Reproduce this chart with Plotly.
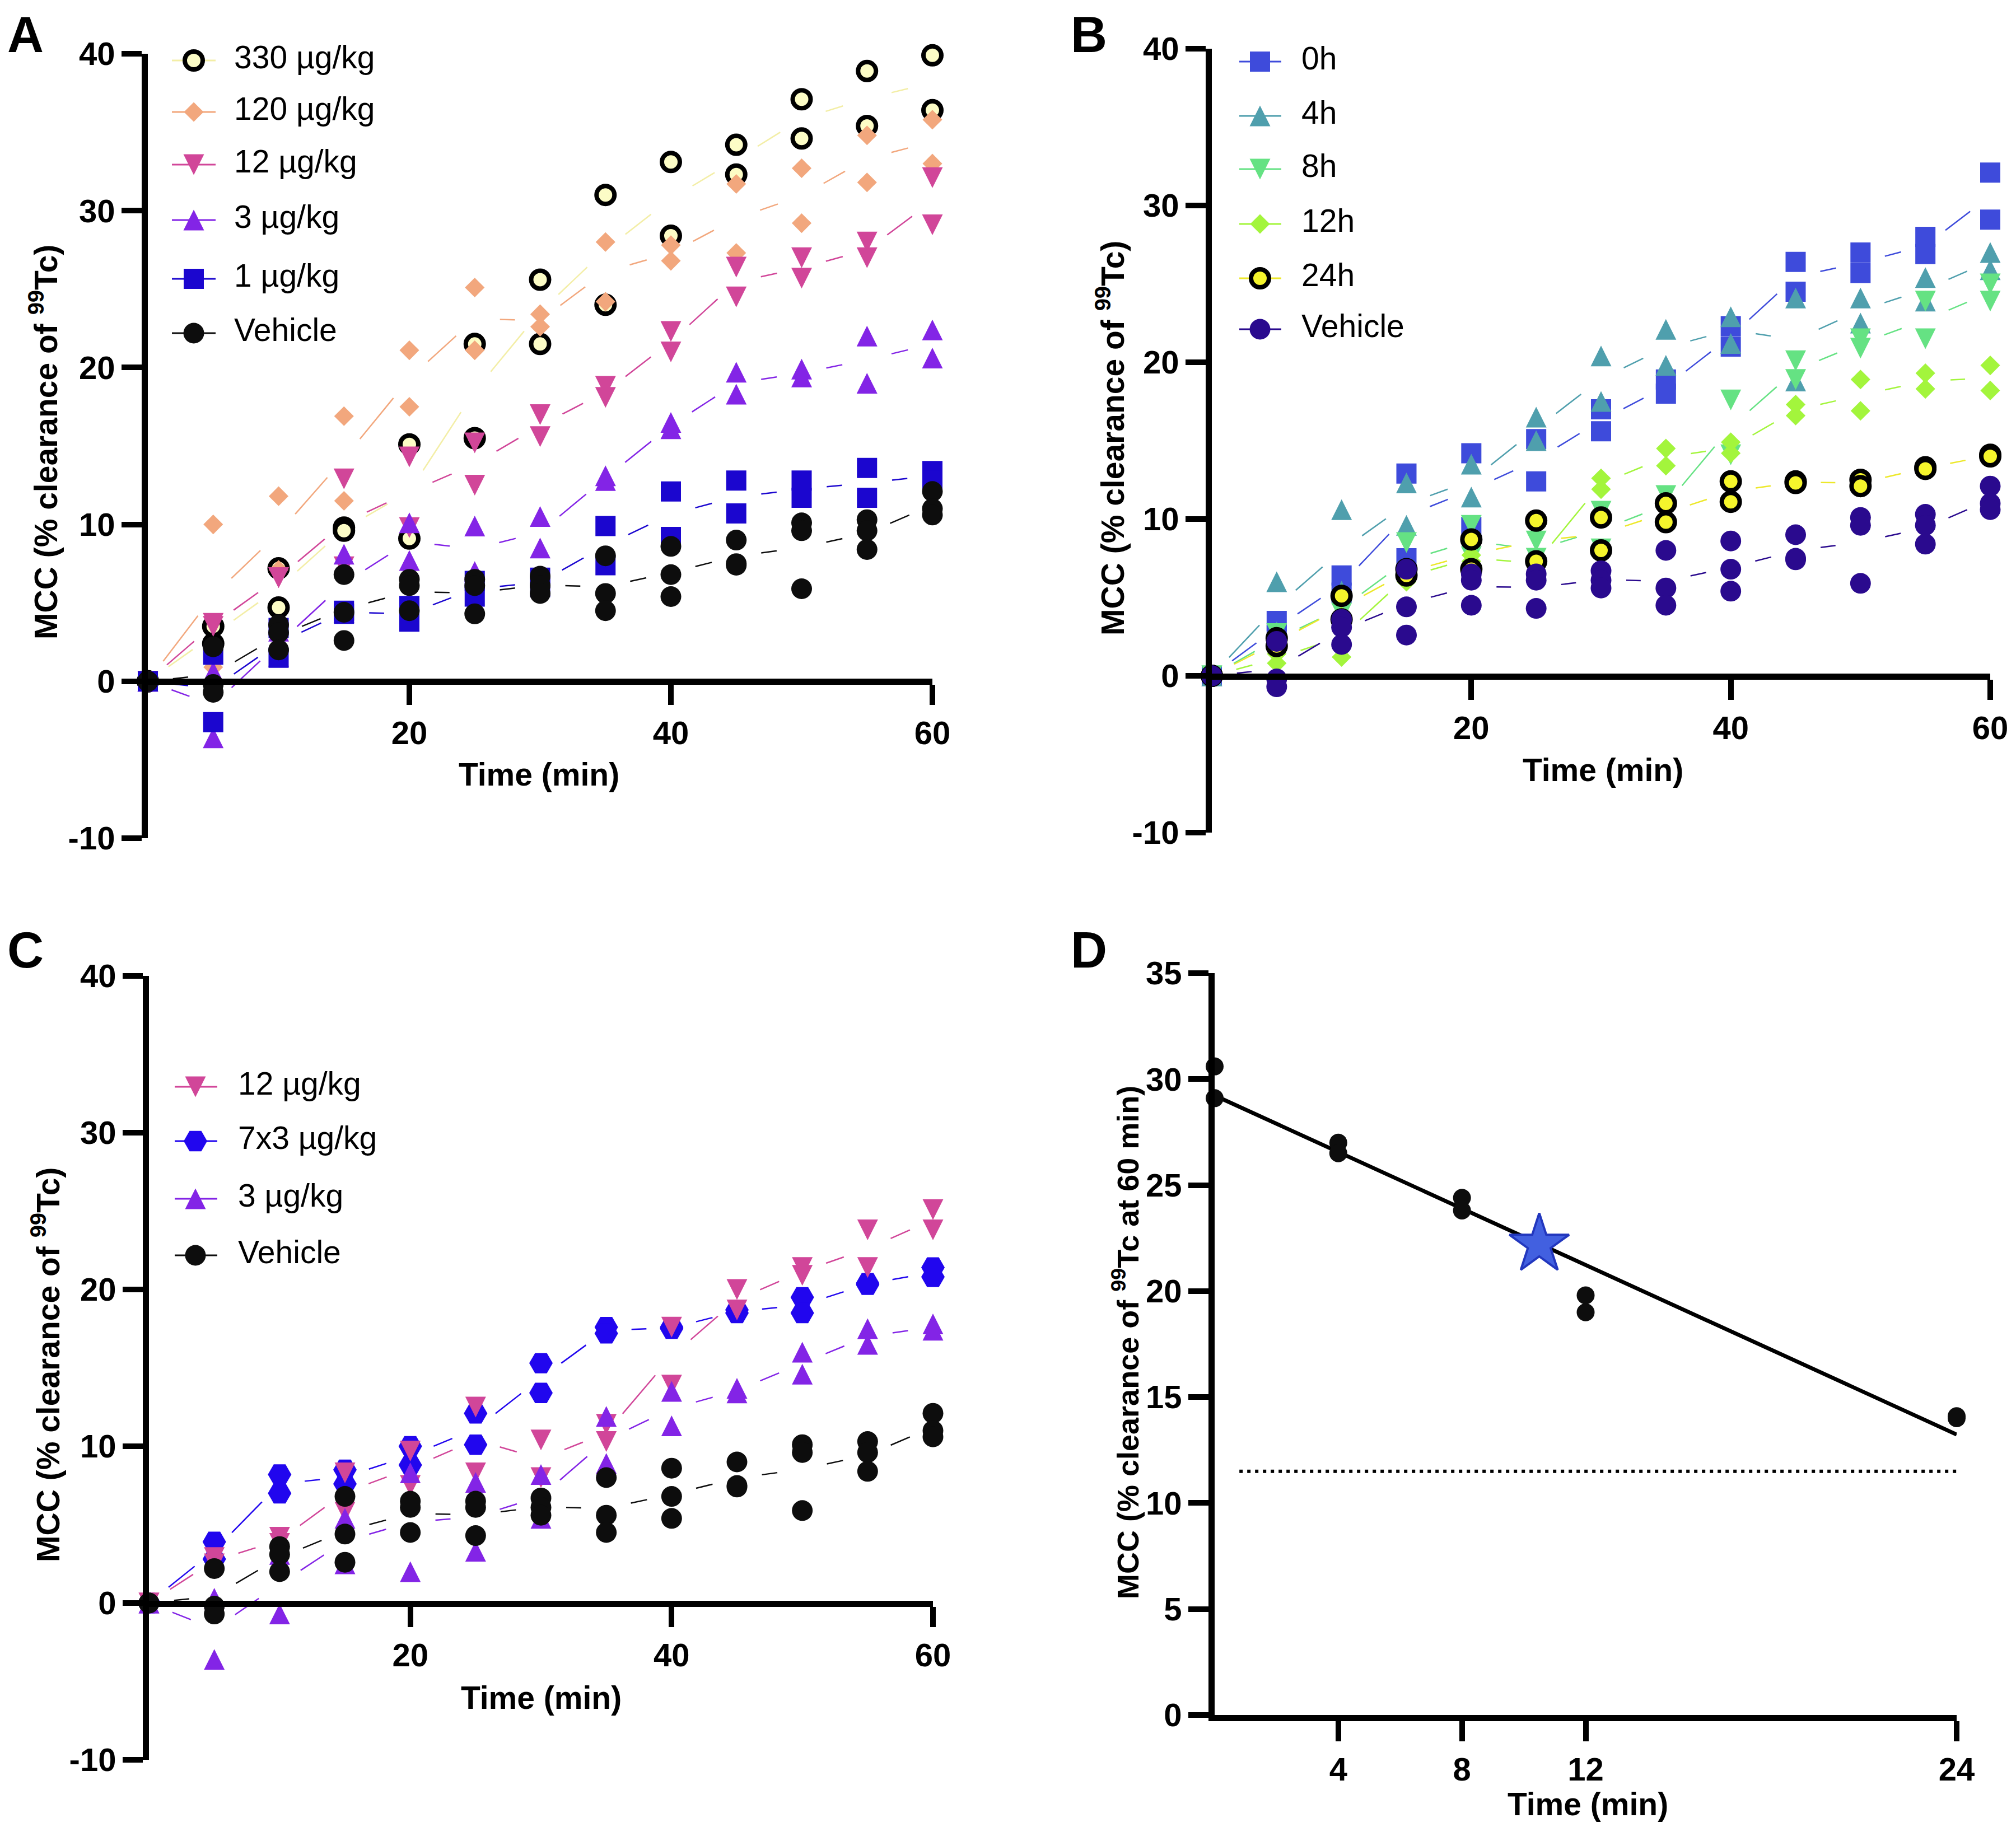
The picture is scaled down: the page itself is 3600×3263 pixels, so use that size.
import numpy as np
import plotly.graph_objects as go

W, H = 3600, 3263          # page size to match
OFF = 8                    # default body margin of the html page
FW, FH = W - 2 * OFF, H - 2 * OFF
FONT = "Liberation Sans, Arial, Helvetica, sans-serif"

# ---------------- data ----------------
T = [0, 5, 10, 15, 20, 25, 30, 35, 40, 45, 50, 55, 60]

VEHICLE = [
    [0, 2.2, 3.6, 6.8, 6.5, 6.5, 6.7, 8.0, 8.6, 9.0, 10.1, 10.3, 12.1],
    [0, -0.2, 3.1, 4.4, 6.1, 6.1, 6.1, 5.6, 6.8, 7.5, 9.6, 9.6, 11.0],
    [0, -0.7, 2.0, 2.6, 4.5, 4.3, 5.6, 4.5, 5.4, 7.4, 5.9, 8.4, 10.6],
]

A_330 = [
    [0, 3.5, 7.2, 9.8, 15.1, 21.5, 25.6, 31.0, 33.1, 34.2, 37.1, 38.9, 39.9],
    [0, 2.4, 4.7, 9.6, 9.1, 15.5, 21.5, 24.0, 28.4, 32.3, 34.6, 35.4, 36.4],
]
A_120 = [
    [0, 10.0, 11.8, 16.9, 21.1, 25.1, 23.4, 28.0, 27.8, 31.7, 32.7, 34.8, 35.8],
    [0, 0.9, 7.1, 11.5, 17.5, 21.1, 22.6, 24.2, 26.8, 27.3, 29.2, 31.8, 33.0],
]
A_12 = [
    [0, 3.7, 6.6, 12.9, 14.3, 15.2, 17.0, 18.8, 22.3, 26.4, 27.0, 28.0, 32.1],
    [0, 3.5, 6.6, 7.3, 9.8, 12.5, 15.6, 18.1, 21.0, 24.5, 25.7, 27.0, 29.1],
]
A_3 = [
    [0, 0.6, 3.2, 8.1, 10.1, 9.9, 10.5, 13.1, 16.5, 19.7, 19.9, 22.0, 22.4],
    [0, -3.6, 1.6, 4.4, 7.7, 7.0, 8.5, 12.8, 16.1, 18.3, 19.4, 19.0, 20.6],
]
A_1 = [
    [0, 1.7, 3.4, 4.5, 4.8, 6.4, 6.6, 9.9, 12.1, 12.8, 12.8, 13.6, 13.4],
    [0, -2.6, 1.5, 4.3, 3.8, 5.4, 6.0, 7.4, 9.2, 10.7, 11.7, 11.7, 12.8],
]

B_0H = [
    [0, 3.5, 6.4, 12.9, 14.2, 15.1, 17.0, 18.9, 22.3, 26.4, 27.0, 28.0, 32.1],
    [0, 2.6, 5.3, 7.5, 9.5, 12.4, 15.6, 18.0, 21.0, 24.5, 25.7, 26.9, 29.1],
]
B_4H = [
    [0, 6.0, 10.6, 12.3, 13.5, 16.5, 20.4, 22.1, 22.9, 24.1, 24.1, 25.4, 27.0],
    [0, 2.8, 5.4, 9.6, 11.4, 15.0, 17.5, 19.8, 21.2, 18.8, 22.5, 23.9, 25.9],
]
B_8H = [
    [0, 2.7, 4.6, 8.5, 9.6, 8.6, 10.5, 11.5, 17.6, 20.1, 21.5, 23.9, 25.0],
    [0, 2.0, 4.0, 6.2, 7.6, 7.5, 8.1, 10.3, 14.1, 18.9, 20.9, 21.5, 23.9],
]
B_12H = [
    [0, 1.4, 3.8, 6.6, 7.7, 7.4, 12.6, 14.5, 14.9, 17.3, 18.9, 19.3, 19.8],
    [0, 0.8, 1.2, 6.0, 7.3, 7.0, 11.9, 13.4, 14.2, 16.6, 16.9, 18.3, 18.2],
]
B_24H = [
    [0, 2.4, 5.1, 6.8, 8.7, 9.9, 10.1, 11.0, 12.4, 12.4, 12.5, 13.3, 14.1],
    [0, 1.9, 3.6, 6.4, 6.8, 7.3, 8.0, 9.8, 11.1, 12.3, 12.1, 13.2, 14.0],
]

C_12 = [
    [0, 2.9, 4.2, 8.3, 9.7, 12.5, 10.4, 11.4, 17.6, 20.0, 21.4, 23.8, 25.1],
    [0, 2.5, 3.8, 5.8, 7.5, 8.3, 8.0, 10.3, 13.9, 18.7, 20.9, 21.4, 23.8],
]
C_7X3 = [
    [0, 3.9, 8.2, 8.5, 10.0, 12.1, 15.3, 17.6, 17.6, 18.7, 19.5, 20.4, 21.4],
    [0, 2.8, 7.0, 7.6, 8.8, 10.1, 13.4, 17.2, 17.5, 18.5, 18.5, 20.3, 20.8],
]
C_3 = [
    [0, 0.3, 3.1, 5.4, 8.3, 7.7, 8.2, 11.9, 13.5, 13.7, 16.0, 17.5, 17.8],
    [0, -3.6, -0.7, 2.5, 2.0, 3.3, 5.4, 8.9, 11.3, 13.4, 14.6, 16.5, 17.4],
]

D_X = [0, 0, 4, 4, 8, 8, 12, 12, 24, 24]
D_Y = [30.6, 29.1, 27.0, 26.5, 24.4, 23.8, 19.8, 19.0, 14.1, 14.0]
D_STAR_X = [10.5]
D_STAR_Y = [22.2]
D_BASELINE_X = [0.8, 24]
D_BASELINE_Y = 11.5

A_NAMES = ["330 µg/kg", "120 µg/kg", "12 µg/kg", "3 µg/kg", "1 µg/kg", "Vehicle"]
B_NAMES = ["0h", "4h", "8h", "12h", "24h", "Vehicle"]
C_NAMES = ["12 µg/kg", "7x3 µg/kg", "3 µg/kg", "Vehicle"]

AXIS_TICKS_ABC_Y = [-10, 0, 10, 20, 30, 40]
AXIS_TICKS_ABC_X = [20, 40, 60]
AXIS_TICKS_D_X = [4, 8, 12, 24]
AXIS_TICKS_D_Y = [0, 5, 10, 15, 20, 25, 30, 35]

# ---------------- styles / layout ----------------
def marker(kind, color, edge=None):
    if kind == "ring":
        return dict(symbol="circle", size=32, color=color, line=dict(color=edge or "black", width=8))
    if kind == "circle":
        return dict(symbol="circle", size=37, color=color, line=dict(width=0))
    if kind == "square":
        return dict(symbol="square", size=36, color=color, line=dict(width=0))
    if kind == "diamond":
        return dict(symbol="diamond", size=27, color=color, line=dict(width=0))
    if kind == "down":
        return dict(symbol="arrow-down", size=37, standoff=18.5, color=color, line=dict(width=0))
    if kind == "up":
        return dict(symbol="arrow-down", size=37, angle=180, standoff=18.5, color=color, line=dict(width=0))
    if kind == "hex":
        return dict(symbol="hexagon2", size=42, color=color, line=dict(width=0))
    if kind == "dot":
        return dict(symbol="circle", size=32, color=color, line=dict(width=0))


PINK = "#D14699"
PURPLE = "#8324E6"

A_STYLE = [("ring", "#FCFCC6", "#F3EEA6"), ("diamond", "#F2A77D", "#F2A77D"),
           ("down", PINK, PINK), ("up", PURPLE, PURPLE),
           ("square", "#1B06CF", "#1B06CF"), ("circle", "#0D0D0D", "#0D0D0D")]
B_STYLE = [("square", "#3E4BDB", "#3E4BDB"), ("up", "#4F9FAD", "#4F9FAD"),
           ("down", "#65E283", "#65E283"), ("diamond", "#A3F53C", "#A3F53C"),
           ("ring", "#F5F52C", "#EDE82A"), ("circle", "#2A0A8E", "#2A0A8E")]
C_STYLE = [("down", PINK, PINK), ("hex", "#2106EE", "#2106EE"),
           ("up", PURPLE, PURPLE), ("circle", "#0D0D0D", "#0D0D0D")]

A_DATA = [A_330, A_120, A_12, A_3, A_1, VEHICLE]
B_DATA = [B_0H, B_4H, B_8H, B_12H, B_24H, VEHICLE]
C_DATA = [C_12, C_7X3, C_3, VEHICLE]

# panel pixel boxes on the page (left, right, top, bottom), and pixel row of y=0
PANELS = {
    "A": dict(xa="x", ya="y", xpx=(264, 1665), ypx=(96, 1497), y0px=1217, xr=(0, 60), yr=(-10, 40)),
    "B": dict(xa="x2", ya="y2", xpx=(2164, 3554), ypx=(87, 1487), y0px=1208, xr=(0, 60), yr=(-10, 40)),
    "C": dict(xa="x3", ya="y3", xpx=(266, 1666), ypx=(1743, 3143), y0px=2864, xr=(0, 60), yr=(-10, 40)),
    "D": dict(xa="x4", ya="y4", xpx=(2169, 3494), ypx=(1738, 3063), xr=(0, 24), yr=(0, 35)),
}

LEGENDS = {
    "A": dict(line=(307, 385), mark=346, text=418, rows=[108, 200, 294, 393, 498, 595]),
    "B": dict(line=(2213, 2288), mark=2250, text=2324, rows=[110, 207, 302, 400, 497, 588]),
    "C": dict(line=(312, 388), mark=349, text=425, rows=[1941, 2038, 2141, 2242]),
}

GAP = 45  # px gap around symbols on the connecting lines


def px(x):
    return (x - OFF) / FW


def py(y):
    return 1 - (y - OFF) / FH


def mean_segments(t, reps, xs, ys, gap):
    m = np.mean(np.array(reps, dtype=float), axis=0)
    X, Y = [], []
    for i in range(len(t) - 1):
        dx = (t[i + 1] - t[i]) * xs
        dy = (m[i + 1] - m[i]) * ys
        L = float(np.hypot(dx, dy))
        if L <= 2 * gap:
            continue
        f = gap / L
        X += [t[i] + f * (t[i + 1] - t[i]), t[i + 1] - f * (t[i + 1] - t[i]), None]
        Y += [m[i] + f * (m[i + 1] - m[i]), m[i + 1] - f * (m[i + 1] - m[i]), None]
    return X, Y


fig = go.Figure()


def add_panel(key, data, styles, order=None):
    p = PANELS[key]
    xs = (p["xpx"][1] - p["xpx"][0]) / (p["xr"][1] - p["xr"][0])
    ys = (p["ypx"][1] - p["ypx"][0]) / (p["yr"][1] - p["yr"][0])
    for reps, (kind, col, lcol) in zip(data, styles):
        X, Y = mean_segments(T, reps, xs, ys, GAP)
        fig.add_trace(go.Scatter(x=X, y=Y, mode="lines", line=dict(color=lcol, width=2.5),
                                 xaxis=p["xa"], yaxis=p["ya"], showlegend=False, hoverinfo="skip",
                                 cliponaxis=False))
    idx = order if order is not None else range(len(data))
    for i in idx:
        reps = data[i]
        kind, col, lcol = styles[i]
        xx = [t for r in reps for t in T]
        yy = [v for r in reps for v in r]
        fig.add_trace(go.Scatter(x=xx, y=yy, mode="markers", marker=marker(kind, col),
                                 xaxis=p["xa"], yaxis=p["ya"], showlegend=False, cliponaxis=False))


add_panel("A", A_DATA, A_STYLE)
add_panel("B", B_DATA, B_STYLE)
add_panel("C", C_DATA, C_STYLE, order=[1, 0, 2, 3])

# Panel D
coef = np.polyfit(D_X, D_Y, 1)
fx = np.array([min(D_X), max(D_X)], dtype=float)
fig.add_trace(go.Scatter(x=D_BASELINE_X, y=[D_BASELINE_Y] * len(D_BASELINE_X), mode="lines",
                         line=dict(color="black", width=6, dash="6px,8px"),
                         xaxis="x4", yaxis="y4", showlegend=False, hoverinfo="skip"))
fig.add_trace(go.Scatter(x=fx, y=np.polyval(coef, fx), mode="lines", line=dict(color="black", width=7),
                         xaxis="x4", yaxis="y4", showlegend=False, hoverinfo="skip", cliponaxis=False))
fig.add_trace(go.Scatter(x=D_X, y=D_Y, mode="markers", marker=marker("dot", "#0D0D0D"),
                         xaxis="x4", yaxis="y4", showlegend=False, cliponaxis=False))
fig.add_trace(go.Scatter(x=D_STAR_X, y=D_STAR_Y, mode="markers",
                         marker=dict(symbol="star", size=80, color="#4260E0",
                                     line=dict(color="#2237BE", width=4)),
                         xaxis="x4", yaxis="y4", showlegend=False, cliponaxis=False))

# Custom legends on an overlay axis measured in page pixels
for key, names, styles in (("A", A_NAMES, A_STYLE), ("B", B_NAMES, B_STYLE), ("C", C_NAMES, C_STYLE)):
    lg = LEGENDS[key]
    for name, (kind, col, lcol), yrow in zip(names, styles, lg["rows"]):
        fig.add_trace(go.Scatter(x=list(lg["line"]), y=[yrow, yrow], mode="lines",
                                 line=dict(color=lcol, width=3), xaxis="x5", yaxis="y5",
                                 showlegend=False, hoverinfo="skip"))
        fig.add_trace(go.Scatter(x=[lg["mark"]], y=[yrow], mode="markers", marker=marker(kind, col),
                                 xaxis="x5", yaxis="y5", showlegend=False, hoverinfo="skip"))
        fig.add_trace(go.Scatter(x=[lg["text"]], y=[yrow], mode="text", text=[name],
                                 textposition="middle right",
                                 textfont=dict(family=FONT, size=57, color="black"),
                                 xaxis="x5", yaxis="y5", showlegend=False, hoverinfo="skip"))

# ---------------- axes ----------------
tickfont = dict(family=FONT, size=58, color="black", weight="bold")
common = dict(showline=True, linecolor="black", linewidth=11, ticks="outside", ticklen=36,
              tickwidth=10, tickcolor="black", showgrid=False, zeroline=False, tickfont=tickfont,
              automargin=False, fixedrange=True, ticklabeloverflow="allow")

layout_axes = {}
for i, key in enumerate(["A", "B", "C", "D"], start=1):
    p = PANELS[key]
    sfx = "" if i == 1 else str(i)
    xa = dict(common, domain=[px(p["xpx"][0]), px(p["xpx"][1])], range=list(p["xr"]))
    ya = dict(common, domain=[py(p["ypx"][1]), py(p["ypx"][0])], range=list(p["yr"]),
              anchor="x" + sfx)
    if key == "D":
        xa.update(anchor="y4", tickvals=AXIS_TICKS_D_X, ticktext=[str(v) for v in AXIS_TICKS_D_X])
        ya.update(tickvals=AXIS_TICKS_D_Y, ticktext=[str(v) for v in AXIS_TICKS_D_Y])
    else:
        xa.update(anchor="free", position=py(p["y0px"]), tickvals=AXIS_TICKS_ABC_X,
                  ticktext=[str(v) for v in AXIS_TICKS_ABC_X])
        ya.update(tickvals=AXIS_TICKS_ABC_Y, ticktext=[str(v) for v in AXIS_TICKS_ABC_Y])
    layout_axes["xaxis" + sfx] = xa
    layout_axes["yaxis" + sfx] = ya

layout_axes["xaxis5"] = dict(domain=[0, 1], range=[OFF, W - OFF], visible=False, anchor="y5",
                             fixedrange=True)
layout_axes["yaxis5"] = dict(domain=[0, 1], range=[H - OFF, OFF], visible=False, anchor="x5",
                             fixedrange=True)

# ---------------- annotations ----------------
ann = []
titlefont = dict(family=FONT, size=57, color="black", weight="bold")
for letter, (x, y) in {"A": (11, 62), "B": (1910, 62), "C": (11, 1697), "D": (1910, 1697)}.items():
    ann.append(dict(text=letter, x=px(x), y=py(y), xref="paper", yref="paper", xanchor="left",
                    yanchor="middle", showarrow=False,
                    font=dict(family=FONT, size=90, color="black", weight="bold")))
for (x, y) in [(963, 1383), (2862, 1375), (966, 3032), (2835, 3222)]:
    ann.append(dict(text="Time (min)", x=px(x), y=py(y), xref="paper", yref="paper",
                    xanchor="center", yanchor="middle", showarrow=False, font=titlefont))
ytitle = "MCC (% clearance of <sup>99</sup>Tc)"
for (x, y) in [(78, 790), (1983, 783), (82, 2438)]:
    ann.append(dict(text=ytitle, x=px(x), y=py(y), xref="paper", yref="paper", textangle=-90,
                    xanchor="center", yanchor="middle", showarrow=False, font=titlefont))
ann.append(dict(text="MCC (% clearance of <sup>99</sup>Tc at 60 min)", x=px(2010), y=py(2398),
                xref="paper", yref="paper", textangle=-90, xanchor="center", yanchor="middle",
                showarrow=False, font=dict(titlefont, size=54)))

fig.update_layout(
    width=FW, height=FH, margin=dict(l=0, r=0, t=0, b=0, autoexpand=False),
    paper_bgcolor="white", plot_bgcolor="rgba(0,0,0,0)", showlegend=False,
    annotations=ann, font=dict(family=FONT, color="black"), **layout_axes,
)

fig.write_html("out.html")
